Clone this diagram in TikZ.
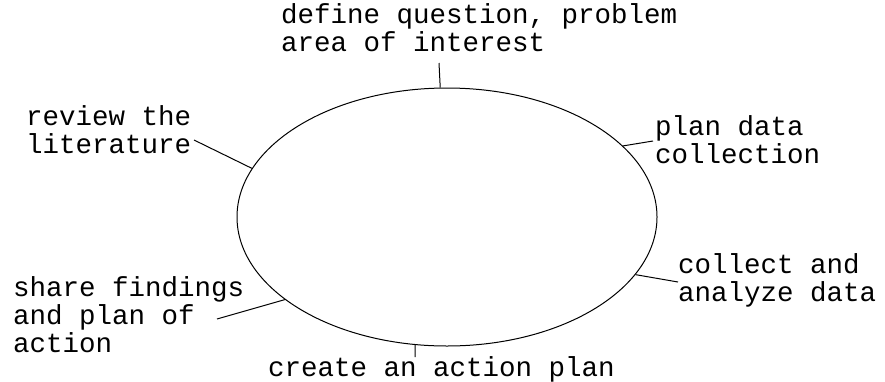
\documentclass[tikz,border=0pt]{standalone}
\usepackage{fontspec}
\setmonofont{Liberation Mono}
\usetikzlibrary{shapes.geometric}

\begin{document}
\begin{tikzpicture}[x=1pt,y=-1pt,
    steplabel/.style={anchor=base west, align=left, inner sep=0pt,
        font=\ttfamily\fontsize{27.5}{28}\selectfont},
    leader/.style={line width=1pt}]
    % fix the page size
    \useasboundingbox (0,0) rectangle (885,381);

    % Draw the cycle
    \node[draw, ellipse, line width=1pt, inner sep=0pt,
        minimum width=420pt, minimum height=258pt] (cycle) at (447,217) {};

    % Draw the step labels (placed by the baseline of their last line)
    \node[steplabel] (define) at (281,51) {define question, problem\\area of interest};
    \node[steplabel] (plan) at (655,163) {plan data\\collection};
    \node[steplabel] (collect) at (678,301) {collect and\\analyze data};
    \node[steplabel] (create) at (268,376) {create an action plan};
    \node[steplabel] (share) at (13,352) {share findings\\and plan of\\action};
    \node[steplabel] (review) at (26,153) {review the\\literature};

    % free ends of the leaders
    \coordinate (defineEnd) at (439,63);
    \coordinate (planEnd) at (653,141);
    \coordinate (collectEnd) at (678,282);
    \coordinate (createEnd) at (415,357);
    \coordinate (shareEnd) at (217,319);
    \coordinate (reviewEnd) at (194,140);

    % leaders from labels to the cycle
    \draw[leader] (defineEnd) -- (cycle.93);
    \draw[leader] (planEnd) -- (cycle.22);
    \draw[leader] (collectEnd) -- (cycle.-17);
    \draw[leader] (createEnd) -- (cycle.256);
    \draw[leader] (shareEnd) -- (cycle.207);
    \draw[leader] (reviewEnd) -- (cycle.166);
\end{tikzpicture}
\end{document}
